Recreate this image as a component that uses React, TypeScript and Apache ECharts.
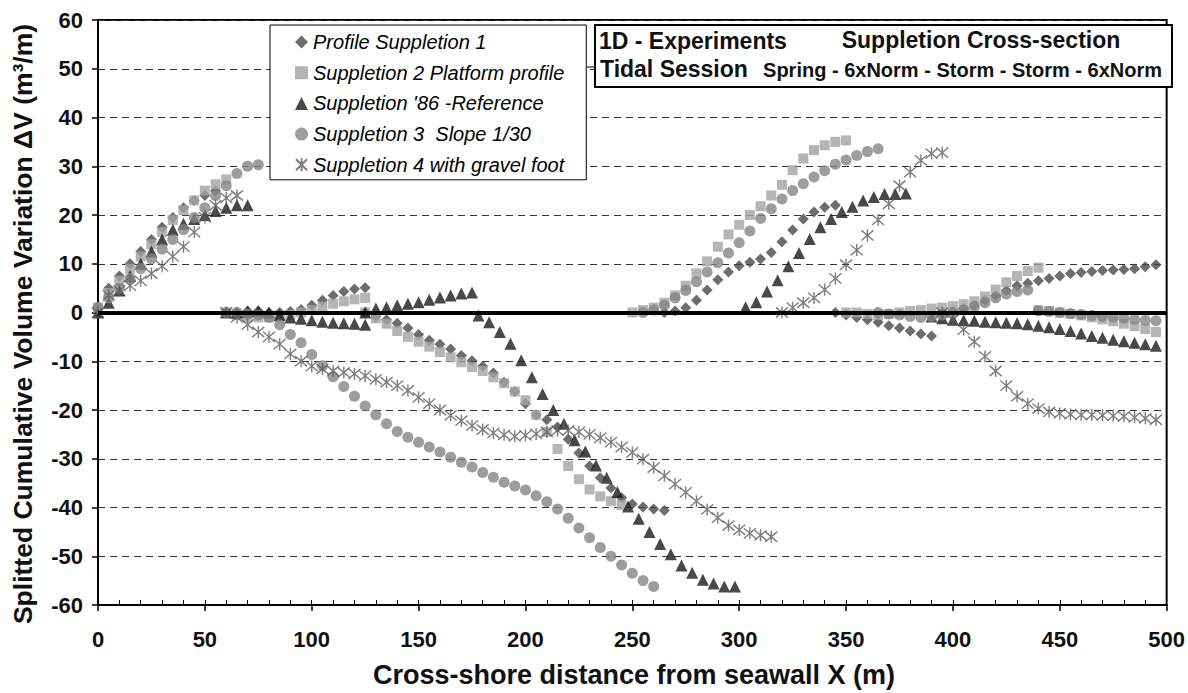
import React, { useEffect, useRef } from "react";
import * as echarts from "echarts";

const FONT = '"Liberation Sans", Arial, Helvetica, sans-serif';

const seriesNames = [
  "Profile Suppletion 1",
  "Suppletion 2 Platform profile",
  "Suppletion '86 -Reference",
  "Suppletion 3  Slope 1/30",
  "Suppletion 4 with gravel foot",
];

const xTicks = { min: 0, max: 500, step: 50 };
const yTicks = { min: -60, max: 60, step: 10 };

// Profile Suppletion 1 (diamonds)
const diamondData: [number, number][] = [
  [0, 0], [5, 5], [10, 7.5], [15, 10], [20, 12.5], [25, 15], [30, 17.5], [35, 19.5], [40, 21.5], [45, 23], [50, 24], [55, 25],
  [60, 0], [65, 0], [70, 0.3], [75, 0.3], [80, 0], [85, 0], [90, 0.2], [95, 0.6], [100, 1.5], [105, 2.5], [110, 3.5], [115, 4.3], [120, 4.8], [125, 5.1],
  [125, 0], [130, -0.8], [135, -1.5], [140, -2.2], [145, -3.2], [150, -4.5], [155, -5.7], [160, -6.5], [165, -7.5], [170, -8.8], [175, -9.9], [180, -11], [185, -12.4], [190, -14.3], [195, -16.2], [200, -18.7], [205, -21], [210, -22], [215, -23.5], [220, -26], [225, -28.8], [230, -31.5], [235, -33.9], [240, -36], [245, -38], [250, -39.3], [255, -39.9], [260, -40.3], [265, -40.6],
  [265, 0], [270, 0.3], [275, 1], [280, 2.5], [285, 4.6], [290, 6.7], [295, 8.3], [300, 9.6], [305, 10.3], [310, 11], [315, 12.3], [320, 14.5], [325, 16.9], [330, 19.2], [335, 20.6], [340, 21.6], [345, 22],
  [345, 0], [350, -0.5], [355, -1], [360, -1.5], [365, -2], [370, -2.7], [375, -3.2], [380, -3.8], [385, -4.4], [390, -4.8],
  [395, 0], [400, 0.3], [405, 0.8], [410, 1.5], [415, 2.5], [420, 3.5], [425, 4.5], [430, 5.5], [435, 6], [440, 6.5], [445, 7], [450, 7.5], [455, 8], [460, 8.2], [465, 8.4], [470, 8.6], [475, 8.7], [480, 8.8], [485, 9], [490, 9.4], [495, 9.8],
];

// Suppletion 2 Platform profile (squares)
const squareData: [number, number][] = [
  [0, 1], [5, 4], [10, 6.5], [15, 9], [20, 11.5], [25, 14], [30, 16.5], [35, 19], [40, 21], [45, 23], [50, 25], [55, 26.3], [60, 27.3],
  [60, 0], [65, -0.5], [70, -1], [75, -1], [80, -1], [85, -1], [90, -0.5], [95, 0], [100, 0.5], [105, 1.2], [110, 1.8], [115, 2.3], [120, 2.7], [125, 3],
  [125, 0], [130, -1.2], [135, -2.3], [140, -3.8], [145, -5], [150, -6], [155, -7], [160, -8.1], [165, -9.2], [170, -10.2], [175, -11.2], [180, -12], [185, -13.3], [190, -14.5], [195, -16.2], [200, -18], [205, -21], [210, -24.5], [215, -28], [220, -31.5], [225, -34.2], [230, -36.3], [235, -37.7], [240, -38.7], [245, -39.5],
  [250, 0], [255, 0.5], [260, 1], [265, 2], [270, 3.5], [275, 5.5], [280, 8], [285, 10.5], [290, 13.5], [295, 16], [300, 18], [305, 20], [310, 21.8], [315, 24], [320, 26.2], [325, 29.2], [330, 31.6], [335, 33.3], [340, 34.3], [345, 35], [350, 35.3],
  [350, 0], [355, 0], [360, -0.3], [365, -0.5], [370, -0.3], [375, 0], [380, 0.3], [385, 0.5], [390, 0.8], [395, 1], [400, 1.3], [405, 1.7], [410, 2.3], [415, 3.3], [420, 4.7], [425, 6.2], [430, 7.5], [435, 8.5], [440, 9.2],
  [440, 0.5], [445, 0.3], [450, 0], [455, -0.3], [460, -0.6], [465, -1], [470, -1.4], [475, -1.8], [480, -2.3], [485, -2.8], [490, -3.4], [495, -4],
];

// Suppletion '86 -Reference (triangles)
const triangleData: [number, number][] = [
  [0, 0], [5, 2], [10, 4.5], [15, 7.5], [20, 10], [25, 12.5], [30, 15], [35, 17], [40, 18.2], [45, 19.2], [50, 20], [55, 20.8], [60, 21.5], [65, 22], [70, 22],
  [60, 0], [65, 0], [70, 0.2], [75, 0.3], [80, 0], [85, -0.5], [90, -1], [95, -1.3], [100, -1.6], [105, -1.9], [110, -2.1], [115, -2.2], [120, -2.3], [125, -2.5],
  [125, 0], [130, 0.8], [135, 1.1], [140, 1.5], [145, 1.8], [150, 2.1], [155, 2.6], [160, 3.1], [165, 3.5], [170, 3.9], [175, 4.1],
  [178, -0.6], [183, -2], [188, -4], [193, -6.4], [198, -9.8], [203, -13.3], [208, -16.7], [213, -20], [218, -22.8], [223, -26.2], [228, -28.5], [233, -31.4], [238, -33.9], [243, -36.8], [248, -39.8], [253, -42.3], [258, -45], [263, -47.5], [268, -49.6], [273, -51.9], [278, -53.4], [283, -54.8], [288, -55.6], [293, -56.2], [298, -56.2],
  [303, 1.1], [308, 2.1], [313, 4.3], [318, 6.6], [323, 9.5], [328, 12.2], [333, 15.1], [338, 17.5], [343, 19.2], [348, 20.6], [353, 21.7], [358, 23], [363, 23.7], [368, 24.3], [373, 24.3], [378, 24.4],
  [390, -0.8], [395, -1.2], [400, -1.5], [405, -1.6], [410, -1.7], [415, -1.9], [420, -2], [425, -2.1], [430, -2.2], [435, -2.4], [440, -2.7], [445, -3], [450, -3.4], [455, -3.8], [460, -4.3], [465, -4.8], [470, -5.2], [475, -5.6], [480, -5.9], [485, -6.2], [490, -6.5], [495, -6.8],
];

// Suppletion 3 Slope 1/30 (circles)
const circleData: [number, number][] = [
  [0, 1], [5, 3], [10, 5], [15, 7], [20, 9], [25, 11], [30, 13], [35, 15], [40, 17], [45, 19.5], [50, 21.5], [55, 24], [60, 26], [65, 28.5], [70, 30], [75, 30.3],
  [60, 0], [65, 0], [70, -0.3], [75, -0.5], [80, -1], [85, -2.5], [90, -4.5], [95, -6.2], [100, -8.6], [105, -10.9], [110, -13.2], [115, -15.2], [120, -17.2], [125, -19.2], [130, -21], [135, -22.8], [140, -24.4], [145, -25.6], [150, -26.6], [155, -27.6], [160, -28.6], [165, -29.7], [170, -30.7], [175, -31.7], [180, -32.8], [185, -33.8], [190, -34.8], [195, -35.6], [200, -36.4], [205, -37.6], [210, -38.8], [215, -40.3], [220, -42.2], [225, -44.2], [230, -46.2], [235, -48.2], [240, -50], [245, -51.8], [250, -53.5], [255, -55], [260, -56.2],
  [255, 0], [260, 0.5], [265, 1.5], [270, 3], [275, 4.5], [280, 6.3], [285, 8.3], [290, 10.2], [295, 12.2], [300, 14.3], [305, 16.7], [310, 19.3], [315, 21.3], [320, 23.3], [325, 25], [330, 26.4], [335, 27.8], [340, 29.1], [345, 30.4], [350, 31.3], [355, 32.2], [360, 33], [365, 33.6],
  [365, 0], [370, -0.3], [375, -0.5], [380, -0.8], [385, -1], [390, -0.8], [395, -0.5], [400, 0], [405, 0.5], [410, 1.2], [415, 2], [420, 3], [425, 3.8], [430, 4.3], [435, 4.6],
  [440, 0.3], [445, 0.2], [450, 0], [455, -0.2], [460, -0.4], [465, -0.6], [470, -0.8], [475, -1], [480, -1.2], [485, -1.4], [490, -1.6], [495, -1.7],
];

// Suppletion 4 with gravel foot (asterisks)
const asteriskData: [number, number][] = [
  [0, 0], [5, 3.5], [10, 4.5], [15, 5.5], [20, 6.5], [25, 8], [30, 9.5], [35, 11.5], [40, 13.5], [45, 16.5], [50, 19.5], [55, 22], [60, 23.5], [65, 24],
  [60, 0], [65, -1], [70, -2.5], [75, -4], [80, -5], [85, -6.5], [90, -8.5], [95, -10], [100, -11], [105, -11.6], [110, -12], [115, -12.3], [120, -12.6], [125, -13], [130, -13.7], [135, -14.3], [140, -15], [145, -16], [150, -17.4], [155, -18.7], [160, -20], [165, -21.1], [170, -22.2], [175, -23.2], [180, -24], [185, -24.7], [190, -25.1], [195, -25.4], [200, -25.2], [205, -24.9], [210, -24.5], [215, -24.2], [220, -24.2], [225, -24.5], [230, -25], [235, -25.7], [240, -26.6], [245, -27.6], [250, -28.7], [255, -30.1], [260, -31.8], [265, -33.5], [270, -35.2], [275, -36.9], [280, -38.7], [285, -40.4], [290, -42.1], [295, -43.7], [300, -44.6], [305, -45.3], [310, -45.7], [315, -46],
  [320, 0], [325, 1], [330, 2], [335, 3], [340, 4.7], [345, 7], [350, 9.8], [355, 12.8], [360, 15.8], [365, 19], [370, 22.3], [375, 26], [380, 28.8], [385, 31.2], [390, 32.6], [395, 32.8],
  [395, 0], [400, -1.5], [405, -3.5], [410, -6], [415, -9], [420, -12], [425, -15], [430, -17.2], [435, -18.7], [440, -19.7], [445, -20.4], [450, -20.7], [455, -20.9], [460, -21], [465, -21], [470, -21.1], [475, -21.2], [480, -21.3], [485, -21.5], [490, -21.7], [495, -22],
];

const xTitle = "Cross-shore distance from seawall X (m)";
const yTitle = "Splitted Cumulative Volume Variation \u0394V (m\u00b3/m)";
const infoLines = {
  a: "1D - Experiments",
  b: "Suppletion Cross-section",
  c: "Tidal Session",
  d: "Spring - 6xNorm - Storm - Storm - 6xNorm",
};

const ASTERISK = "path://M10 0L10 20M1.5 1.5L18.5 18.5M18.5 1.5L1.5 18.5";

export default function App() {
  const ref = useRef<HTMLDivElement>(null);
  useEffect(() => {
    if (!ref.current) return;
    const chart = echarts.init(ref.current, null, { renderer: "svg" });
    const mk = (name: string, data: [number, number][], symbol: string, size: number, itemStyle: any) => ({
      name,
      type: "scatter",
      xAxisIndex: 0,
      yAxisIndex: 0,
      data,
      symbol,
      symbolSize: size,
      itemStyle,
      silent: true,
    });
    const option: any = {
      animation: false,
      grid: {
        left: 98, right: 20, top: 20, bottom: 88,
        show: true, borderColor: "#000", borderWidth: 2, backgroundColor: "transparent",
      },
      legend: {
        data: seriesNames,
        orient: "vertical",
        left: 270,
        top: 25,
        padding: [7, 22, 5, 25],
        itemGap: 10.7,
        itemWidth: 13,
        itemHeight: 13,
        backgroundColor: "#fff",
        borderColor: "#000",
        borderWidth: 1,
        selectedMode: false,
        textStyle: { fontFamily: FONT, fontStyle: "italic", fontSize: 20, color: "#000" },
      },
      xAxis: [
        {
          type: "value", min: xTicks.min, max: xTicks.max, interval: xTicks.step, position: "bottom",
          axisLine: { show: true, onZero: false, lineStyle: { color: "#000", width: 2 } },
          axisTick: { show: true, inside: false, length: 6, lineStyle: { color: "#000", width: 1.5 } },
          axisLabel: { margin: 23, fontSize: 22, fontWeight: "bold", fontFamily: FONT, color: "#111" },
          splitLine: { show: false },
        },
        {
          type: "value", min: xTicks.min, max: xTicks.max, interval: 10, position: "bottom",
          axisLine: { show: false, onZero: false },
          axisTick: { show: true, inside: true, length: 5, lineStyle: { color: "#000", width: 1 } },
          axisLabel: { show: false },
          splitLine: { show: false },
        },
      ],
      yAxis: {
        type: "value", min: yTicks.min, max: yTicks.max, interval: yTicks.step,
        axisLine: { show: true, onZero: false, lineStyle: { color: "#000", width: 2 } },
        axisTick: { show: true, inside: false, length: 6, lineStyle: { color: "#000", width: 1.5 } },
        axisLabel: { margin: 15, fontSize: 22, fontWeight: "bold", fontFamily: FONT, color: "#111" },
        splitLine: { show: true, lineStyle: { color: "#333", width: 1, type: [7, 5] } },
      },
      series: [
        {
          name: "zero", type: "scatter", data: [], silent: true,
          markLine: {
            silent: true, symbol: ["none", "none"], label: { show: false },
            lineStyle: { color: "#000", width: 4, type: "solid" },
            data: [{ yAxis: 0 }],
          },
        },
        mk(seriesNames[0], diamondData, "diamond", 11, { color: "#484848" }),
        mk(seriesNames[1], squareData, "rect", 10, { color: "#a3a3a3" }),
        mk(seriesNames[2], triangleData, "triangle", 12, { color: "#1a1a1a" }),
        mk(seriesNames[3], circleData, "circle", 11, { color: "#858585" }),
        mk(seriesNames[4], asteriskData, ASTERISK, 12, { color: "rgba(0,0,0,0)", borderColor: "#5e5e5e", borderWidth: 1.4 }),
      ],
      graphic: [
        {
          type: "text", x: 23, y: 324, rotation: Math.PI / 2, z: 100,
          style: { text: yTitle, fontFamily: FONT, fontWeight: "bold", fontSize: 26.5, fill: "#111", align: "center", verticalAlign: "middle" },
        },
        {
          type: "text", x: 634, y: 675, z: 100,
          style: { text: xTitle, fontFamily: FONT, fontWeight: "bold", fontSize: 27, fill: "#111", align: "center", verticalAlign: "middle" },
        },
        {
          type: "rect", z: 100,
          shape: { x: 595, y: 25, width: 577, height: 62 },
          style: { fill: "#fff", stroke: "#000", lineWidth: 2 },
        },
        {
          type: "line", z: 100,
          shape: { x1: 587, y1: 67, x2: 595, y2: 67 },
          style: { stroke: "#000", lineWidth: 1 },
        },
        {
          type: "text", x: 599, y: 41, z: 101,
          style: { text: infoLines.a, fontFamily: FONT, fontWeight: "bold", fontSize: 23, fill: "#111", align: "left", verticalAlign: "middle" },
        },
        {
          type: "text", x: 981, y: 40, z: 101,
          style: { text: infoLines.b, fontFamily: FONT, fontWeight: "bold", fontSize: 23, fill: "#111", align: "center", verticalAlign: "middle" },
        },
        {
          type: "text", x: 600, y: 69, z: 101,
          style: { text: infoLines.c, fontFamily: FONT, fontWeight: "bold", fontSize: 23, fill: "#111", align: "left", verticalAlign: "middle" },
        },
        {
          type: "text", x: 1162, y: 70, z: 101,
          style: { text: infoLines.d, fontFamily: FONT, fontWeight: "bold", fontSize: 20, fill: "#111", align: "right", verticalAlign: "middle" },
        },
      ],
    };
    chart.setOption(option);
    return () => chart.dispose();
  }, []);
  return (
    <div
      ref={ref}
      style={{ position: "fixed", left: 0, top: 0, width: 1188, height: 693, background: "#fff" }}
    />
  );
}
